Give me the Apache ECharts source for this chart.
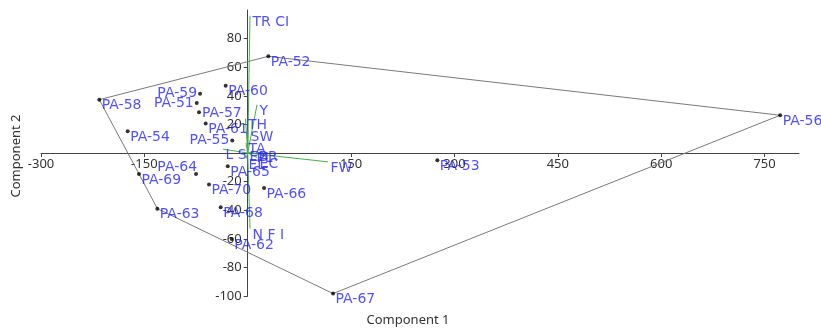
<!DOCTYPE html>
<html><head><meta charset="utf-8">
<script src="https://cdn.jsdelivr.net/npm/echarts@6/dist/echarts.min.js"></script>
<style>html,body{margin:0;padding:0;background:#fff}#c{width:821px;height:331px}</style>
</head><body><div id="c"></div>
<script>
// ---- data ----
const pointNames = ['PA-51','PA-52','PA-53','PA-54','PA-55','PA-56','PA-57','PA-58','PA-59','PA-60',
                    'PA-61','PA-62','PA-63','PA-64','PA-65','PA-66','PA-67','PA-68','PA-69','PA-70'];
const pointX = [-74, 29.9, 275.2, -174.2, -22.4, 772.7, -70.7, -215.4, -69.2, -32,
                -61, -23.2, -131.2, -75, -29, 23.7, 123.8, -39.2, -157.8, -56.2];
const pointY = [35, 67.6, -5.1, 15.2, 8.7, 26.4, 28.5, 37.3, 41.5, 47.1,
                20.6, -60.2, -38.9, -14.6, -9.3, -24.4, -98.3, -38, -14.6, -22.1];
const hullOrder = ['PA-58','PA-52','PA-56','PA-67','PA-63','PA-69','PA-58'];
const varNames = ['TR CI','Y','TH','SW','TA','L S','EBR','PL','EL','EC','FW','N F I'];
const varX = [3.3, 13.5, -3.2, 0.4, -2.5, -35.8, -1, 9, -2.5, 13.5, 116.5, 3.3];
const varY = [96, 33.8, 24, 15.7, 6.9, 2.7, 1.7, 1, -3.9, -3.2, -6.2, -52.9];
const xMin = -300, xMax = 800, xStep = 150;
const yMin = -100, yMax = 100, yStep = 20;
const xTitle = 'Component 1', yTitle = 'Component 2';

// ---- layout config (not data) ----
const G = {left:41, right:22, top:10, bottom:35, W:821, H:331};
const gw = G.W - G.left - G.right, gh = G.H - G.top - G.bottom;
const xZeroOff = -(0 - xMin) / (xMax - xMin) * gw;   // move y axis to x=0
const yZeroOff = -(0 - yMin) / (yMax - yMin) * gh;   // move x axis to y=0
const labelPlace = {'PA-59':'left','PA-51':'left','PA-55':'left','PA-64':'leftUp','PA-57':'rightMid'};
const BLUE = '#2525f5';
const labelFont = {fontFamily:'DejaVu Sans', fontSize:14, color:BLUE};

function labelFor(name){
  const p = labelPlace[name];
  if (p === 'left') return Object.assign({show:true, position:'left', distance:1, formatter:name}, labelFont);
  if (p === 'leftUp') return Object.assign({show:true, position:'left', distance:0, offset:[3,-7], formatter:name}, labelFont);
  if (p === 'rightMid') return Object.assign({show:true, position:'right', distance:1, offset:[0,1], formatter:name}, labelFont);
  return Object.assign({show:true, position:[4.5,1], align:'left', verticalAlign:'top', formatter:name}, labelFont);
}

const pts = pointNames.map((n,i)=>({name:n, value:[pointX[i], pointY[i]], label:labelFor(n)}));
const hull = hullOrder.map(n=>{const i=pointNames.indexOf(n); return [pointX[i], pointY[i]];});

const series = [];
series.push({type:'line', data:hull, symbol:'none', silent:true, z:2,
  lineStyle:{color:'#7a7a7a', width:1}, animation:false});
varNames.forEach((v,i)=>{
  series.push({type:'line', data:[[0,0],[varX[i],varY[i]]], symbol:'none', silent:true, z:3,
    lineStyle:{color:'#4cae4c', width:1}, animation:false});
});
series.push({type:'scatter', data:pts, symbolSize:4, itemStyle:{color:'#000'}, z:4, animation:false});
series.push({type:'scatter', z:5, animation:false, symbolSize:1, itemStyle:{color:'transparent'},
  data:varNames.map((v,i)=>({name:v, value:[varX[i],varY[i]],
    label:Object.assign({show:true, position:[3,0], align:'left', verticalAlign:'top', formatter:v}, labelFont)}))});

const axisCommon = {
  type:'value', splitLine:{show:false},
  axisLine:{onZero:false, lineStyle:{color:'#444', width:1}},
  axisTick:{show:true, inside:false, length:4, lineStyle:{color:'#444'}},
};
const chart = echarts.init(document.getElementById('c'), null, {renderer:'canvas'});
chart.setOption({
  backgroundColor:'#fff',
  animation:false,
  grid:{left:G.left, right:G.right, top:G.top, bottom:G.bottom, containLabel:false, outerBoundsMode:'none'},
  xAxis:Object.assign({}, axisCommon, {min:xMin, max:xMax, interval:xStep, position:'bottom', offset:yZeroOff,
    axisLabel:{showMaxLabel:false, margin:5, color:'#333', fontFamily:'Noto Sans', fontSize:13,
      formatter:v=> (v===0||v===xMax)?'':String(v)}}),
  yAxis:Object.assign({}, axisCommon, {min:yMin, max:yMax, interval:yStep, position:'left', offset:xZeroOff,
    axisLabel:{showMaxLabel:false, margin:6, color:'#333', fontFamily:'Noto Sans', fontSize:13,
      formatter:v=> (v===0||v===yMax)?'':String(v)}}),
  graphic:[
    {type:'text', x:408, y:320, style:{text:xTitle, x:0, y:0, align:'center', verticalAlign:'middle',
      font:'13px "Noto Sans"', fill:'#333'}},
    {type:'text', x:16, y:156, rotation:Math.PI/2, style:{text:yTitle, x:0, y:0, align:'center', verticalAlign:'middle',
      font:'13px "Noto Sans"', fill:'#333'}}
  ],
  series:series
});
</script></body></html>
